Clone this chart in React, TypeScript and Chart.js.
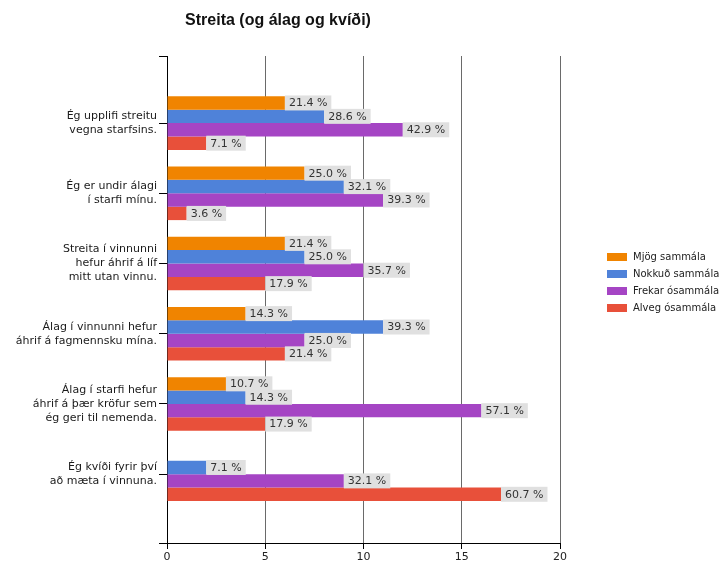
import React, { useEffect, useRef } from "react";
import { Chart, registerables } from "chart.js";

Chart.register(...registerables);

const TITLE = "Streita (og álag og kvíði)";

const categories: string[][] = [
  ["Ég upplifi streitu", "vegna starfsins."],
  ["Ég er undir álagi", "í starfi mínu."],
  ["Streita í vinnunni", "hefur áhrif á líf", "mitt utan vinnu."],
  ["Álag í vinnunni hefur", "áhrif á fagmennsku mína."],
  ["Álag í starfi hefur", "áhrif á þær kröfur sem", "ég geri til nemenda."],
  ["Ég kvíði fyrir því", "að mæta í vinnuna."],
];

const seriesNames = ["Mjög sammála", "Nokkuð sammála", "Frekar ósammála", "Alveg ósammála"];
const seriesColors = ["#f08400", "#4f82d9", "#a545c4", "#e8503a"];

// bar lengths (number of answers)
const mjogCounts: (number | null)[] = [6, 7, 6, 4, 3, null];
const nokkudCounts: (number | null)[] = [8, 9, 7, 11, 4, 2];
const frekarCounts: (number | null)[] = [12, 11, 10, 7, 16, 9];
const alvegCounts: (number | null)[] = [2, 1, 5, 6, 5, 17];

// percentages shown in the labels
const mjogPct: (number | null)[] = [21.4, 25.0, 21.4, 14.3, 10.7, null];
const nokkudPct: (number | null)[] = [28.6, 32.1, 25.0, 39.3, 14.3, 7.1];
const frekarPct: (number | null)[] = [42.9, 39.3, 35.7, 25.0, 57.1, 32.1];
const alvegPct: (number | null)[] = [7.1, 3.6, 17.9, 21.4, 17.9, 60.7];

const xTicks = [0, 5, 10, 15, 20];

const allCounts = [mjogCounts, nokkudCounts, frekarCounts, alvegCounts];
const allPct = [mjogPct, nokkudPct, frekarPct, alvegPct];

const FONT = "'DejaVu Sans', sans-serif";
const Y_MIN = -0.955;
const Y_MAX = 5.98;

export default function App() {
  const ref = useRef<HTMLCanvasElement | null>(null);

  useEffect(() => {
    document.body.style.margin = "0";
    const canvas = ref.current;
    if (!canvas) return;

    const datasets = allCounts.map((counts, si) => ({
      label: seriesNames[si],
      backgroundColor: seriesColors[si],
      borderWidth: 0,
      categoryPercentage: 0.8,
      barPercentage: 1.0,
      data: counts
        .map((v, i) => (v === null ? null : { x: v, y: i }))
        .filter((d) => d !== null) as { x: number; y: number }[],
      pct: allPct[si].filter((p) => p !== null),
    }));

    const labelPlugin = {
      id: "valueLabels",
      afterDatasetsDraw(chart: any) {
        const ctx = chart.ctx;
        ctx.save();
        ctx.font = `11px ${FONT}`;
        ctx.textBaseline = "middle";
        chart.data.datasets.forEach((ds: any, di: number) => {
          const meta = chart.getDatasetMeta(di);
          meta.data.forEach((bar: any, j: number) => {
            const p = ds.pct[j];
            if (p === null || p === undefined) return;
            const text = p.toFixed(1) + " %";
            const tw = ctx.measureText(text).width;
            const w = tw + 8;
            const h = 15;
            const x = bar.x;
            const y = bar.y - h / 2;
            ctx.fillStyle = "#e0e0e0";
            ctx.fillRect(x, y, w, h);
            ctx.fillStyle = "#333333";
            ctx.textAlign = "left";
            ctx.fillText(text, x + 4, bar.y + 0.5);
          });
        });
        ctx.restore();
      },
    };

    const titleLegendPlugin = {
      id: "titleLegend",
      afterDraw(chart: any) {
        const ctx = chart.ctx;
        ctx.save();
        ctx.font = "bold 16px 'Liberation Sans', Arial, sans-serif";
        ctx.fillStyle = "#111111";
        ctx.textAlign = "center";
        ctx.textBaseline = "middle";
        ctx.fillText(TITLE, 278, 21);

        ctx.font = `10px ${FONT}`;
        ctx.textAlign = "left";
        chart.data.datasets.forEach((ds: any, i: number) => {
          const cy = 257 + i * 17;
          ctx.fillStyle = ds.backgroundColor;
          ctx.fillRect(607, cy - 4, 20, 8);
          ctx.fillStyle = "#222222";
          ctx.fillText(ds.label, 633, cy);
        });
        ctx.restore();
      },
    };

    const chart = new Chart(canvas, {
      type: "bar",
      data: { datasets: datasets as any },
      options: {
        indexAxis: "y",
        animation: false,
        responsive: false,
        maintainAspectRatio: false,
        layout: { padding: { top: 56, right: 160, left: 0, bottom: 0 } },
        plugins: {
          legend: { display: false },
          title: { display: false },
          tooltip: { enabled: false },
        },
        scales: {
          x: {
            type: "linear",
            min: xTicks[0],
            max: xTicks[xTicks.length - 1],
            offset: false,
            afterBuildTicks: (scale: any) => {
              scale.ticks = xTicks.map((v) => ({ value: v }));
            },
            afterFit: (scale: any) => {
              scale.height = 23;
            },
            ticks: {
              font: { family: FONT, size: 11 },
              color: "#222222",
              padding: 2,
            },
            grid: {
              offset: false,
              color: (c: any) => (c.tick && c.tick.value === 0 ? "#000000" : "#6a6a6a"),
              tickColor: "#000000",
              tickLength: 6,
              lineWidth: 1,
            },
            border: { display: true, color: "#000000", width: 1 },
          },
          y: {
            type: "linear",
            reverse: true,
            min: Y_MIN,
            max: Y_MAX,
            offset: false,
            afterBuildTicks: (scale: any) => {
              scale.ticks = [Y_MIN, ...categories.map((_, i) => i), Y_MAX].map((v) => ({ value: v }));
            },
            afterFit: (scale: any) => {
              scale.width = 167;
            },
            ticks: {
              font: { family: FONT, size: 11, lineHeight: 1.27 },
              color: "#1a1a1a",
              padding: 2,
              autoSkip: false,
              callback: (v: any) => {
                const n = Number(v);
                return Number.isInteger(n) ? categories[n] || "" : "";
              },
            },
            grid: {
              offset: false,
              drawOnChartArea: false,
              color: "#000000",
              tickLength: 8,
            },
            border: { display: true, color: "#000000", width: 1 },
          },
        },
      },
      plugins: [labelPlugin, titleLegendPlugin],
    });

    return () => chart.destroy();
  }, []);

  return (
    <div style={{ width: 720, height: 566, background: "#ffffff" }}>
      <canvas ref={ref} width={720} height={566} style={{ display: "block" }} />
    </div>
  );
}
